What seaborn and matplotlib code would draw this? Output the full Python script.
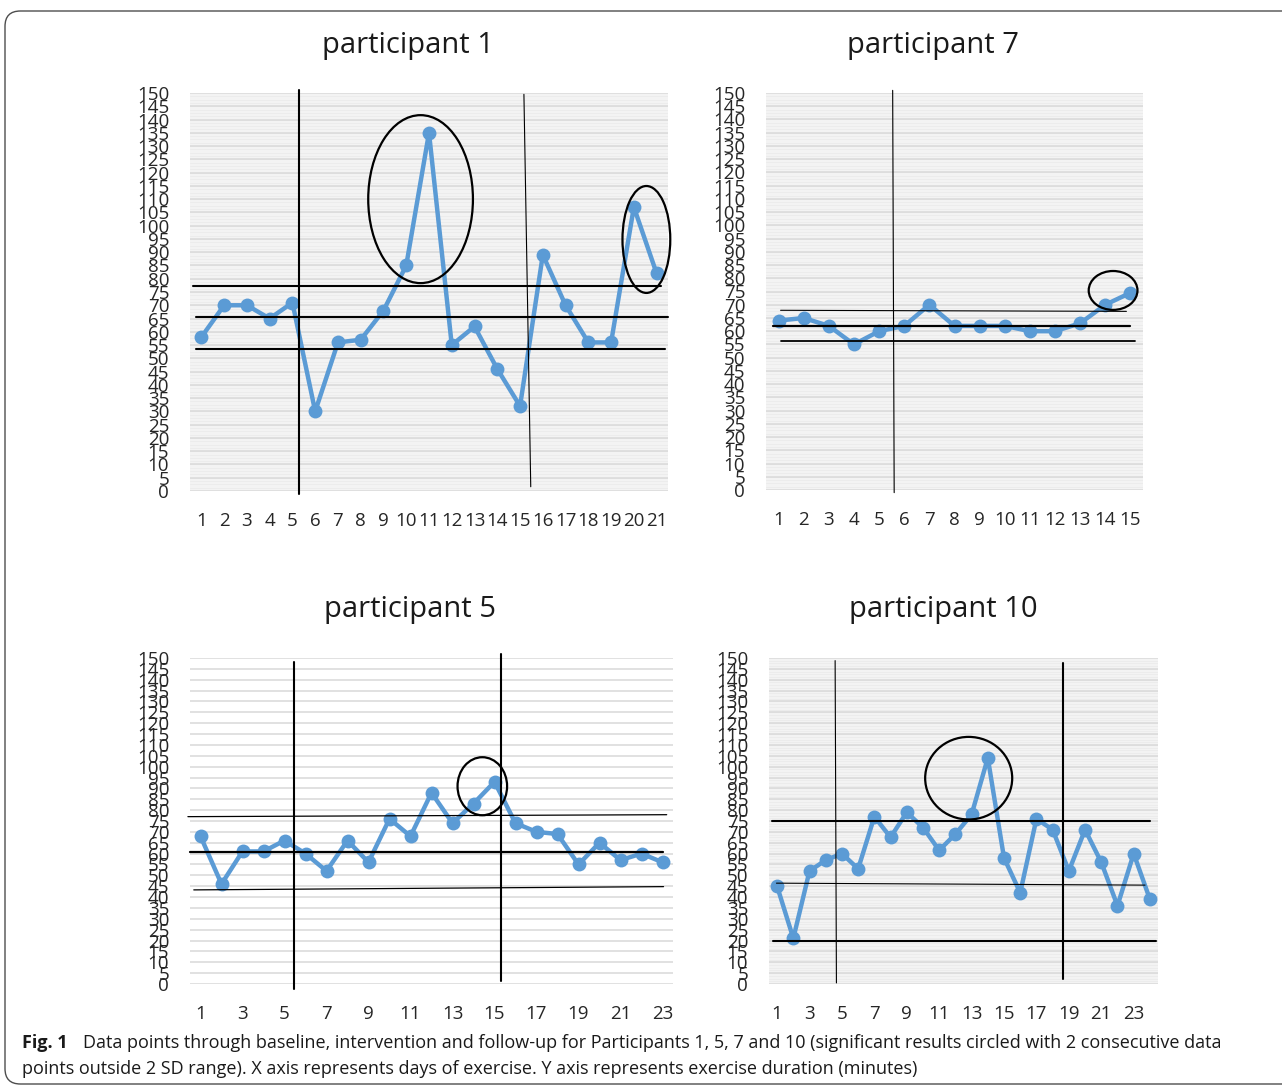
import matplotlib
matplotlib.use("Agg")
import matplotlib.pyplot as plt
from matplotlib.patches import Ellipse, FancyBboxPatch
import numpy as np
import pandas as pd
import seaborn as sns

sns.set_theme(style="white")
plt.rcParams['font.family'] = ['Open Sans', 'DejaVu Sans']

# ---------------- data ----------------
p1_values = [58, 70, 70, 65, 71, 30, 56, 57, 68, 85, 135, 55, 62, 46, 32, 89, 70, 56, 56, 107, 82]
p7_values = [64, 65, 62, 55, 60, 62, 70, 62, 62, 62, 60, 60, 63, 70, 74.5]
p5_values = [68, 46, 61, 61, 66, 60, 52, 66, 56, 76, 68, 88, 74, 83, 93, 74, 70, 69, 55, 65, 57, 60, 56]
p10_values = [45, 21, 52, 57, 60, 53, 77, 67.5, 79, 72, 61.5, 69, 78, 104, 58, 42, 76, 71, 52, 71, 56, 36, 60, 39]

titles = ["participant 1", "participant 7", "participant 5", "participant 10"]
p1_xticks = list(range(1, 22))
p7_xticks = list(range(1, 16))
p5_xticks = list(range(1, 24, 2))
p10_xticks = list(range(1, 24, 2))
y_ticks = list(range(0, 151, 5))

# horizontal reference lines (mean and 2 SD): (x0, x1, y0, y1, linewidth)
p1_hlines = [(0.63, 21.2, 77.3, 77.3, 1.5), (0.77, 21.52, 65.5, 65.5, 1.5), (0.77, 21.37, 53.7, 53.7, 1.5)]
p7_hlines = [(1.08, 14.84, 67.9, 67.5, 0.8), (0.78, 14.97, 62.0, 62.0, 1.6), (1.08, 15.2, 56.4, 56.4, 1.3)]
p5_hlines = [(0.4, 23.2, 77.0, 77.9, 0.9), (0.52, 23.03, 60.6, 60.6, 1.6), (0.68, 23.05, 43.3, 44.8, 0.9)]
p10_hlines = [(0.69, 24.0, 75.0, 75.0, 1.5), (0.96, 23.7, 46.4, 45.5, 0.8), (0.75, 24.35, 19.6, 19.6, 1.5)]

# phase change lines: (x0, x1, y0, y1, linewidth)
p1_vlines = [(5.29, 5.29, 151, -1, 1.5), (15.17, 15.47, 149.5, 1.6, 0.8)]
p7_vlines = [(5.54, 5.60, 151, -1, 0.8)]
p5_vlines = [(5.44, 5.44, 148.3, -2.5, 1.5), (15.3, 15.3, 152, 1.5, 1.5)]
p10_vlines = [(4.58, 4.66, 148.8, 0.5, 0.8), (18.61, 18.61, 147.6, 2.1, 1.5)]

# circled significant points: (x centre, y centre, width, height)
p1_circles = [(10.63, 110.0, 4.6, 63.3), (20.55, 94.8, 2.1, 40.3)]
p7_circles = [(14.31, 75.4, 1.94, 14.7)]
p5_circles = [(14.42, 91.0, 2.36, 26.7)]
p10_circles = [(12.82, 94.7, 5.37, 38.0)]

# ---------------- figure ----------------
W, H = 1282, 1088
fig = plt.figure(figsize=(W / 100, H / 100), dpi=100)

def fx(px):
    return px / W

def fy(py):
    return 1 - py / H

# outer rounded frame
frame = FancyBboxPatch((fx(5), fy(1084)), fx(1300) - fx(5), fy(11) - fy(1084),
                       boxstyle="round,pad=0,rounding_size=0.012",
                       transform=fig.transFigure, fill=False, edgecolor="#4d4d4d",
                       linewidth=1.0, clip_on=False, mutation_aspect=W / H)
fig.patches.append(frame)

panels = [
    # values, xticks, hlines, vlines, circles, (left,right,top,bottom px), title pos, face
    (p1_values, p1_xticks, p1_hlines, p1_vlines, p1_circles, (190, 668, 93, 491), (408, 45), "#f3f3f3"),
    (p7_values, p7_xticks, p7_hlines, p7_vlines, p7_circles, (766, 1143, 93, 490), (933, 45), "#f3f3f3"),
    (p5_values, p5_xticks, p5_hlines, p5_vlines, p5_circles, (190, 673, 658, 984), (410, 610), "white"),
    (p10_values, p10_xticks, p10_hlines, p10_vlines, p10_circles, (769, 1158, 658, 984), (943, 610), "#f3f3f3"),
]

blue = "#5B9BD5"

for (vals, xt, hl, vl, circ, box, tpos, face), title in zip(panels, titles):
    l, r, t, b = box
    ax = fig.add_axes([fx(l), fy(b), fx(r) - fx(l), fy(t) - fy(b)])
    ax.set_facecolor(face)
    n = len(vals)
    df = pd.DataFrame({"day": np.arange(1, n + 1), "minutes": vals})
    ax.set_xlim(0.5, n + 0.5)
    ax.set_ylim(0, 150)
    # grid
    if face != "white":
        for yv in np.arange(0, 150, 1.25):
            ax.axhline(yv, color="#ebebeb", lw=0.6, zorder=0)
    for yv in y_ticks:
        ax.axhline(yv, color="#d9d9d9", lw=1.1, zorder=0.5)
    sns.lineplot(data=df, x="day", y="minutes", ax=ax, color=blue, linewidth=3.2,
                 marker="o", markersize=10, markeredgewidth=0, zorder=3)
    for (x0, x1, y0, y1, lw) in hl:
        ax.plot([x0, x1], [y0, y1], color="black", lw=lw, zorder=4, clip_on=False)
    for (x0, x1, y0, y1, lw) in vl:
        ax.plot([x0, x1], [y0, y1], color="black", lw=lw, zorder=4, clip_on=False)
    for (cx, cy, w, h) in circ:
        ax.add_patch(Ellipse((cx, cy), w, h, fill=False, edgecolor="black", lw=1.6,
                             zorder=5, clip_on=False))
    ax.set_xticks(xt)
    ax.set_xticklabels([str(v) for v in xt], fontsize=13.5)
    ax.set_yticks(y_ticks)
    ax.set_yticklabels([str(v) for v in y_ticks], fontsize=13.5)
    ax.tick_params(axis="both", length=0)
    ax.tick_params(axis="x", pad=15)
    ax.tick_params(axis="y", pad=15)
    ax.set_xlabel("")
    ax.set_ylabel("")
    for s in ax.spines.values():
        s.set_visible(False)
    fig.text(fx(tpos[0]), fy(tpos[1]), title, fontsize=21, ha="center", va="center",
             color="#1a1a1a")

# caption
fig.text(fx(22), fy(1043), "Fig. 1", fontsize=13, fontweight="bold", ha="left", va="center",
         color="#1a1a1a")
fig.text(fx(83), fy(1043),
         "Data points through baseline, intervention and follow-up for Participants 1, 5, 7 and 10 "
         "(significant results circled with 2 consecutive data",
         fontsize=13, ha="left", va="center", color="#1a1a1a")
fig.text(fx(22), fy(1069),
         "points outside 2 SD range). X axis represents days of exercise. Y axis represents exercise "
         "duration (minutes)",
         fontsize=13, ha="left", va="center", color="#1a1a1a")

fig.savefig("out.png", dpi=100)
